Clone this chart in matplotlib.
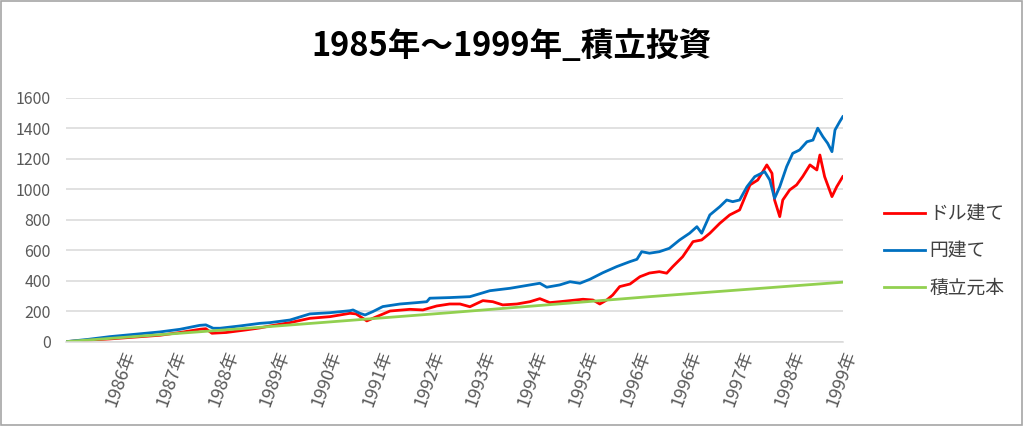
import matplotlib

matplotlib.use("Agg")
import matplotlib.pyplot as plt
from matplotlib.patches import Rectangle

plt.rcParams["font.family"] = ["Noto Sans CJK JP", "DejaVu Sans"]

TITLE = "1985年～1999年_積立投資"

# months since start (x) and value
dollar_month = [0, 5.1, 10.2, 16.0, 21.8, 26.4, 31.0, 32.4, 33.8, 37.1, 41.7, 44.9, 47.3, 51.9,
                56.5, 61.2, 65.8, 67.2, 68.8, 69.7, 72.0, 75.1, 79.7, 82.7, 85.9, 88.9, 91.3,
                93.6, 96.6, 98.9, 101.2, 104.5, 107.5, 109.8, 112.1, 114.4, 116.8, 119.8, 122.1,
                123.7, 125.3, 126.7, 128.3, 130.7, 133.0, 135.2, 137.5, 139.2, 140.6, 142.9,
                145.3, 147.3, 149.2, 151.5, 153.8, 156.1, 158.5, 160.3, 162.4, 163.6, 164.2,
                165.4, 166.1, 167.7, 169.3, 170.7, 172.4, 174.0, 174.7, 175.8, 177.5, 178.6, 180.0]
dollar_value = [0, 10, 18, 30, 42, 60, 81, 85, 55, 60, 77, 90, 103, 125,
                153, 164, 186, 182, 153, 136, 164, 201, 212, 208, 234, 247, 247,
                229, 269, 262, 241, 247, 262, 282, 256, 262, 269, 278, 273,
                247, 273, 306, 361, 378, 426, 450, 459, 449, 492, 557,
                656, 667, 711, 776, 831, 864, 1028, 1060, 1159, 1104, 929,
                820, 929, 995, 1028, 1082, 1159, 1126, 1224, 1082, 951, 1016, 1082]

yen_month = [0, 5.1, 10.2, 21.8, 26.4, 31.0, 32.4, 34.1, 35.7, 40.3, 44.9, 47.3, 51.9, 56.5,
             61.2, 65.8, 66.5, 68.1, 69.3, 71.1, 73.4, 77.4, 81.3, 83.6, 84.3, 88.9, 93.6,
             98.2, 102.9, 107.5, 109.8, 111.4, 114.4, 116.8, 119.1, 121.4, 124.4, 127.6,
             130.7, 132.3, 133.4, 135.2, 137.5, 139.8, 142.2, 144.5, 146.2, 147.3, 149.2,
             151.5, 153.1, 154.5, 156.1, 157.8, 159.6, 161.9, 163.1, 164.2, 165.4, 167.0,
             168.4, 170.0, 171.7, 173.1, 174.2, 175.4, 176.5, 177.5, 178.2, 179.3, 180.0]
yen_value = [0, 15, 33, 64, 81, 107, 110, 88, 88, 103, 120, 125, 142, 182,
             190, 203, 208, 186, 175, 197, 230, 247, 256, 262, 285, 289, 295,
             334, 350, 372, 383, 357, 372, 393, 383, 409, 452, 492,
             525, 540, 590, 580, 590, 612, 667, 711, 754, 711, 831,
             885, 929, 918, 929, 1016, 1082, 1115, 1060, 940, 1016, 1148,
             1235, 1257, 1311, 1322, 1400, 1344, 1301, 1246, 1388, 1443, 1475]

principal_month = [0, 44.9, 88.9, 135.2, 180.0]
principal_value = [0, 94, 190, 295, 390]

series_names = ["ドル建て", "円建て", "積立元本"]
year_labels = ["1986年", "1987年", "1988年", "1989年", "1990年", "1991年", "1992年", "1993年",
               "1994年", "1995年", "1996年", "1996年", "1997年", "1998年", "1999年"]
y_ticks = [0, 200, 400, 600, 800, 1000, 1200, 1400, 1600]


def main() -> None:
    fig = plt.figure(figsize=(10.24, 4.26), dpi=100)
    fig.patches.append(Rectangle((0.001, 0.002), 0.997, 0.995, transform=fig.transFigure,
                                 fill=False, edgecolor="#a6a6a6", linewidth=1.2))
    ax = fig.add_axes([0.0645, 0.198, 0.7585, 0.5727])

    ax.plot(dollar_month, dollar_value, color="#ff0000", linewidth=2.0, label=series_names[0])
    ax.plot(yen_month, yen_value, color="#0070c0", linewidth=2.0, label=series_names[1])
    ax.plot(principal_month, principal_value, color="#92d050", linewidth=2.0, label=series_names[2])

    ax.set_xlim(0, 180)
    ax.set_ylim(0, 1600)
    ax.set_yticks(y_ticks)
    ax.set_yticklabels([str(v) for v in y_ticks])
    first, step = 12.97, 11.93
    ax.set_xticks([first + step * i for i in range(len(year_labels))])
    ax.set_xticklabels(year_labels, rotation=70, ha="right", va="top", rotation_mode="anchor")
    ax.tick_params(axis="both", length=0, colors="#595959")
    ax.tick_params(axis="x", pad=5, labelsize=13)
    ax.tick_params(axis="y", pad=11, labelsize=11.5)
    ax.grid(axis="y", color="#d9d9d9", linewidth=1.1)
    ax.set_axisbelow(True)
    for side in ("top", "right", "left"):
        ax.spines[side].set_visible(False)
    ax.spines["bottom"].set_color("#d9d9d9")
    ax.spines["bottom"].set_linewidth(1.1)

    fig.text(0.5, 0.892, TITLE, ha="center", va="center", fontsize=23.5, fontweight="bold",
             color="#000000")

    fig.legend(loc="center left", bbox_to_anchor=(0.847, 0.41), frameon=False, fontsize=13.5,
               handlelength=2.15, labelspacing=0.85, labelcolor="#404040", handletextpad=0.25)

    fig.savefig("out.png", dpi=100)
    plt.close(fig)


if __name__ == "__main__":
    main()
